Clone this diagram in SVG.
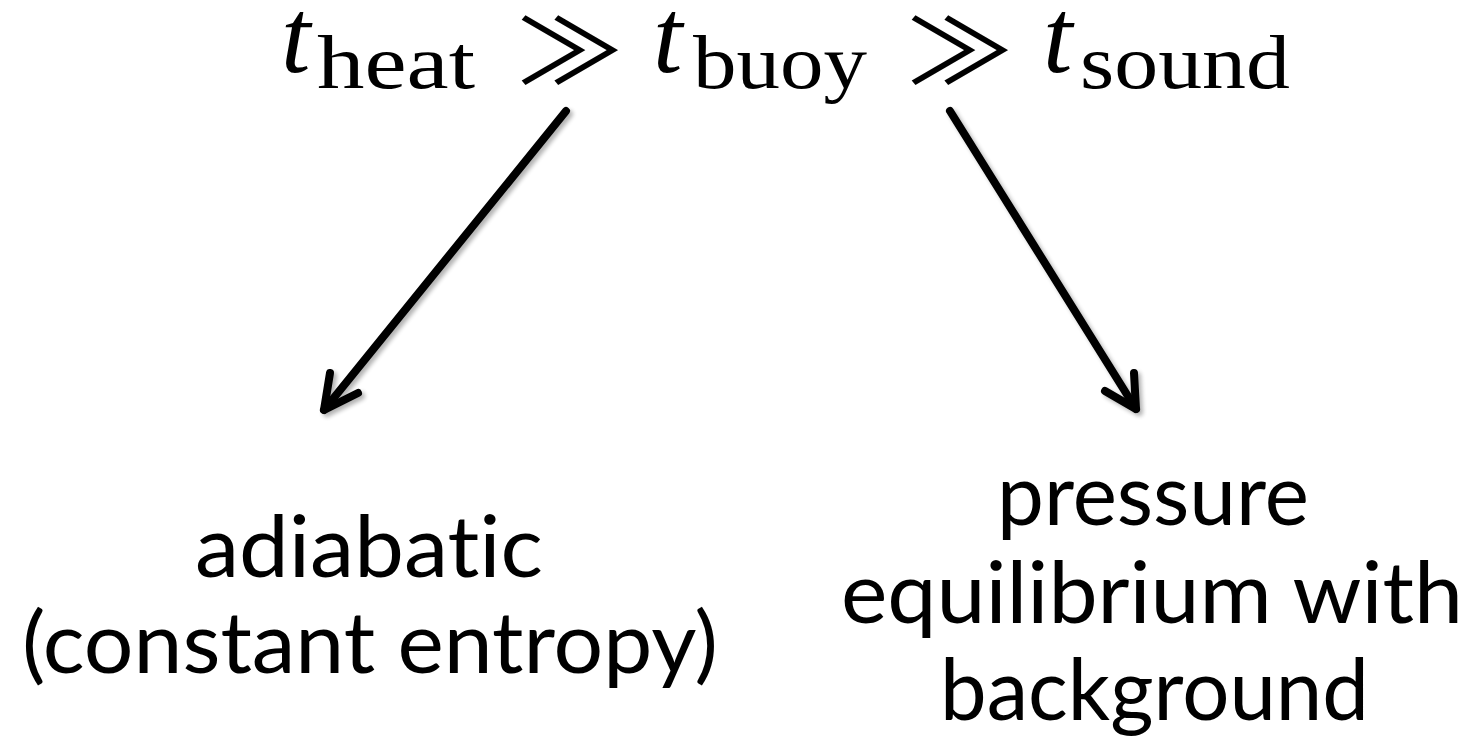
<svg xmlns="http://www.w3.org/2000/svg" width="1476" height="739" viewBox="0 0 1476 739">
<style>
.mi{font-family:"Liberation Serif","DejaVu Serif",serif;font-style:italic;font-size:106px;fill:#000}
.sub{font-family:"Liberation Serif","DejaVu Serif",serif;font-size:76px;fill:#000}
.rel{font-family:"Noto Sans CJK JP","DejaVu Sans",sans-serif;font-size:90px;fill:#000}
.lbl{font-family:Lato,"DejaVu Sans","Liberation Sans",sans-serif;font-size:86px;fill:#000;font-variant-ligatures:none;font-feature-settings:"liga" 0,"clig" 0,"dlig" 0}
.arr{stroke:#000;stroke-width:8;fill:none;stroke-linecap:round;stroke-linejoin:round}
</style>
<defs>
<filter id="sh" x="-20%" y="-20%" width="140%" height="140%">
<feGaussianBlur in="SourceAlpha" stdDeviation="2"/>
<feOffset dx="3" dy="3" result="b"/>
<feComponentTransfer><feFuncA type="linear" slope="0.3"/></feComponentTransfer>
<feMerge><feMergeNode/><feMergeNode in="SourceGraphic"/></feMerge>
</filter>
</defs>
<g id="header">
<text class="mi" x="281" y="72">t</text>
<text class="sub" x="317" y="88" textLength="158" lengthAdjust="spacingAndGlyphs">heat</text>
<text class="rel" transform="translate(523 83.5) scale(1.2 1)" x="-6" y="0">≫</text>
<text class="mi" x="653" y="72">t</text>
<text class="sub" x="693" y="88" textLength="174" lengthAdjust="spacingAndGlyphs">buoy</text>
<text class="rel" transform="translate(913 83.5) scale(1.2 1)" x="-6" y="0">≫</text>
<text class="mi" x="1043" y="72">t</text>
<text class="sub" x="1080" y="88" textLength="210" lengthAdjust="spacingAndGlyphs">sound</text>
</g>
<g id="connectors" filter="url(#sh)">
<path class="arr" d="M566,111 L324,410"/>
<path class="arr" d="M330,373 L324,410 L358,393"/>
<path class="arr" d="M950,111 L1136,409"/>
<path class="arr" d="M1134,373 L1136,409 L1105,391"/>
</g>
<g id="node-adiabatic">
<text class="lbl" x="195" y="577" textLength="348" lengthAdjust="spacingAndGlyphs">adiabatic</text>
<text class="lbl" x="22" y="673" textLength="696" lengthAdjust="spacingAndGlyphs">(constant entropy)</text>
</g>
<g id="node-pressure">
<text class="lbl" x="997" y="525" textLength="312" lengthAdjust="spacingAndGlyphs">pressure</text>
<text class="lbl" x="841" y="623" textLength="622" lengthAdjust="spacingAndGlyphs">equilibrium with</text>
<text class="lbl" x="940" y="720" textLength="429" lengthAdjust="spacingAndGlyphs">background</text>
</g>
</svg>
